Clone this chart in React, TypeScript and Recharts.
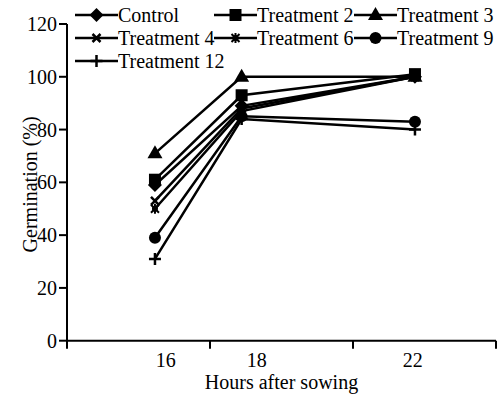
import React from "react";
import { Line, LineChart, XAxis, YAxis } from "recharts";

// hours after sowing (numeric x positions of the points)
const hours = [16, 18, 22];

const control = [59, 89, 100];
const treatment2 = [61, 93, 101];
const treatment3 = [71, 100, 100];
const treatment4 = [53, 88, 100];
const treatment6 = [50, 87, 100];
const treatment9 = [39, 85, 83];
const treatment12 = [31, 84, 80];

const seriesNames = ["Control", "Treatment 2", "Treatment 3", "Treatment 4", "Treatment 6", "Treatment 9", "Treatment 12"];
const seriesMarkers = ["diamond", "square", "triangle", "cross", "star", "circle", "plus"];
const seriesValues = [control, treatment2, treatment3, treatment4, treatment6, treatment9, treatment12];

const yTicks = [0, 20, 40, 60, 80, 100, 120];
// tick marks on the x axis (category boundaries in the original plot)
const xTickMarks = [13.97, 17.27, 20.57, 23.87];
// where the hour labels sit along the axis, and their text
const xLabelSpots = [16.25, 18.35, 21.95];
const xTickLabels = ["16", "18", "22"];

const data = hours.map((h, i) => {
  const row: any = { hour: h };
  seriesNames.forEach((name, s) => {
    row[name] = seriesValues[s][i];
  });
  return row;
});

const FONT = "Liberation Serif";

const Marker: React.FC<{ kind: string; cx: number; cy: number }> = ({ kind, cx, cy }) => {
  switch (kind) {
    case "diamond":
      return <polygon points={`${cx},${cy - 7} ${cx + 7},${cy} ${cx},${cy + 7} ${cx - 7},${cy}`} fill="#000" />;
    case "square":
      return <rect x={cx - 6} y={cy - 6} width={12} height={12} fill="#000" />;
    case "triangle":
      return <polygon points={`${cx},${cy - 8} ${cx + 7.5},${cy + 5} ${cx - 7.5},${cy + 5}`} fill="#000" />;
    case "cross":
      return (
        <path
          d={`M${cx - 4},${cy - 4}L${cx + 4},${cy + 4}M${cx + 4},${cy - 4}L${cx - 4},${cy + 4}`}
          stroke="#000"
          strokeWidth={2.5}
        />
      );
    case "star":
      return (
        <g>
          <circle cx={cx} cy={cy} r={3} fill="#000" />
          <path
            d={`M${cx - 4},${cy - 4}L${cx + 4},${cy + 4}M${cx + 4},${cy - 4}L${cx - 4},${cy + 4}M${cx},${cy - 5}V${cy + 5}`}
            stroke="#000"
            strokeWidth={2}
          />
        </g>
      );
    case "circle":
      return <circle cx={cx} cy={cy} r={6} fill="#000" />;
    case "plus":
      return (
        <path d={`M${cx},${cy - 6}V${cy + 6}M${cx - 6},${cy}H${cx + 6}`} stroke="#000" strokeWidth={2.5} />
      );
    default:
      return null;
  }
};

const legendCols = [75, 214, 354];
const legendRows = [15, 38, 61];

const ChartLegend: React.FC = () => (
  <div style={{ position: "absolute", left: 0, top: 0, width: 498, height: 80, pointerEvents: "none" }}>
    {seriesNames.map((name, i) => (
      <div
        key={name}
        style={{
          position: "absolute",
          left: legendCols[i % 3],
          top: legendRows[Math.floor(i / 3)] - 12,
          height: 24,
          display: "flex",
          alignItems: "center",
          fontFamily: FONT,
          fontSize: 20,
          color: "#000",
          whiteSpace: "nowrap",
        }}
      >
        <svg width={43} height={24} style={{ display: "block" }}>
          <line x1={0} y1={12} x2={43} y2={12} stroke="#000" strokeWidth={2.5} />
          <Marker kind={seriesMarkers[i]} cx={21.5} cy={12} />
        </svg>
        <span>{name}</span>
      </div>
    ))}
  </div>
);

const tickStyle = { fontFamily: FONT, fontSize: 20, fill: "#000" };

export default function App() {
  return (
    <div style={{ position: "absolute", left: 0, top: 0, width: 498, height: 396, background: "#fff" }}>
      <LineChart width={498} height={396} data={data} margin={{ top: 24, right: 2, bottom: 0, left: 0 }}>
        <XAxis
          dataKey="hour"
          type="number"
          domain={[xTickMarks[0], xTickMarks[xTickMarks.length - 1]]}
          ticks={xTickMarks}
          tickFormatter={() => ""}
          height={10}
          tickSize={8}
          axisLine={{ stroke: "#000", strokeWidth: 2 }}
          tickLine={{ stroke: "#000", strokeWidth: 2 }}
          allowDataOverflow
        />
        <XAxis
          xAxisId="labels"
          dataKey="hour"
          type="number"
          domain={[xTickMarks[0], xTickMarks[xTickMarks.length - 1]]}
          allowDataOverflow
          ticks={xLabelSpots}
          tickFormatter={(v: number) => xTickLabels[xLabelSpots.indexOf(v)]}
          height={45.3}
          tickSize={0}
          tickMargin={2}
          axisLine={false}
          tickLine={false}
          interval={0}
          tick={tickStyle}
          label={{
            value: "Hours after sowing",
            position: "insideBottom",
            offset: 7,
            style: tickStyle,
          }}
        />
        <YAxis
          type="number"
          domain={[0, 120]}
          ticks={yTicks}
          width={67}
          tickSize={8}
          tickMargin={2}
          interval={0}
          axisLine={{ stroke: "#000", strokeWidth: 2 }}
          tickLine={{ stroke: "#000", strokeWidth: 2 }}
          tick={tickStyle}
          label={{
            content: (props: any) => {
              const vb = props.viewBox || { x: 0, y: 24, width: 67, height: 316 };
              const x = vb.x + 30;
              const y = vb.y + vb.height / 2 + 2;
              return (
                <text
                  x={x}
                  y={y}
                  transform={`rotate(-90 ${x} ${y})`}
                  textAnchor="middle"
                  dominantBaseline="central"
                  style={tickStyle}
                >
                  Germination (%)
                </text>
              );
            },
          }}
        />
        {seriesNames.map((name, i) => (
          <Line
            key={name}
            dataKey={name}
            type="linear"
            stroke="#000"
            strokeWidth={2.5}
            isAnimationActive={false}
            activeDot={false}
            dot={(p: any) => <Marker key={`${name}-${p.index}`} kind={seriesMarkers[i]} cx={p.cx} cy={p.cy} />}
          />
        ))}
      </LineChart>
      <ChartLegend />
    </div>
  );
}
